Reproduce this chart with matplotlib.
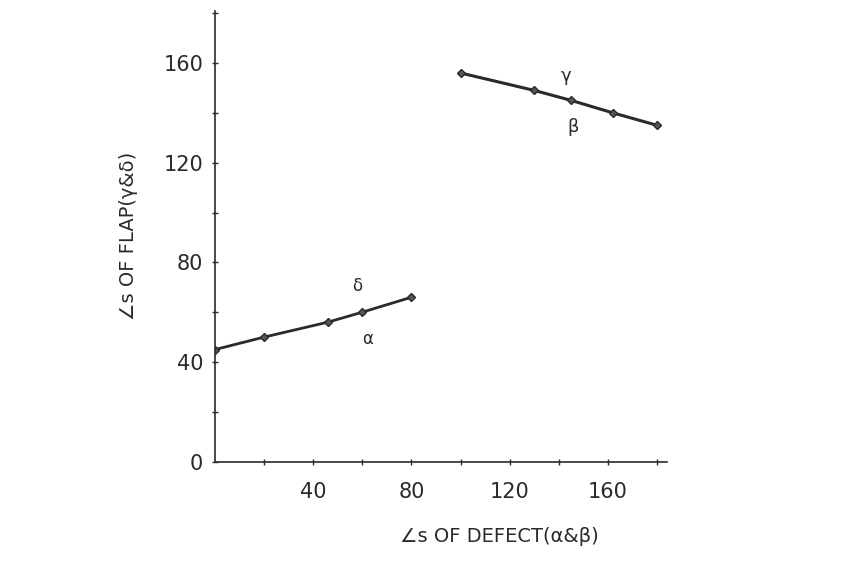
import matplotlib
matplotlib.use("Agg")
import matplotlib.pyplot as plt

# angles of defect (alpha) vs angle of flap (delta)
alpha_x = [0, 20, 46, 60, 80]
delta_y = [45, 50, 56, 60, 66]

# angles of defect (beta) vs angle of flap (gamma)
beta_x = [100, 130, 145, 162, 180]
gamma_y = [156, 149, 145, 140, 135]

x_ticks = [40, 80, 120, 160]
y_ticks = [0, 40, 80, 120, 160]

ink = "#2a2a2a"

fig = plt.figure(figsize=(8.43, 5.61), dpi=100)
ax = fig.add_axes([0.255, 0.177, 0.536, 0.804])

ax.plot(alpha_x, delta_y, color=ink, lw=2, marker="D", ms=4.5, mfc="#555555", mec=ink)
ax.plot(beta_x, gamma_y, color=ink, lw=2.2, marker="D", ms=4.5, mfc="#555555", mec=ink)

# greek letter tags beside the lines
ax.text(58, 67, "δ", fontsize=12, color=ink, ha="center", va="bottom")
ax.text(62, 53, "α", fontsize=12, color=ink, ha="center", va="top")
ax.text(143, 151, "γ", fontsize=13, color=ink, ha="center", va="bottom")
ax.text(146, 138, "β", fontsize=13, color=ink, ha="center", va="top")

ax.set_xlim(0, 184)
ax.set_ylim(0, 181)
ax.set_xticks(x_ticks)
ax.set_yticks(y_ticks)
ax.set_xticks(range(20, 181, 20), minor=True)
ax.set_yticks(range(20, 181, 20), minor=True)

for s in ["top", "right"]:
    ax.spines[s].set_visible(False)
for s in ["left", "bottom"]:
    ax.spines[s].set_color(ink)
    ax.spines[s].set_linewidth(1.2)

ax.tick_params(which="both", direction="inout", length=5, width=1, color=ink)
ax.tick_params(axis="x", which="major", labelsize=15, labelcolor=ink, pad=12)
ax.tick_params(axis="y", which="major", labelsize=15, labelcolor=ink, pad=6)

ax.set_xlabel("∠s OF DEFECT(α&β)", fontsize=14, color=ink, labelpad=16)
ax.set_ylabel("∠s OF FLAP(γ&δ)", fontsize=14, color=ink, labelpad=18)
ax.xaxis.set_label_coords(0.63, -0.145)

fig.savefig("out.png", dpi=100, facecolor="white")
